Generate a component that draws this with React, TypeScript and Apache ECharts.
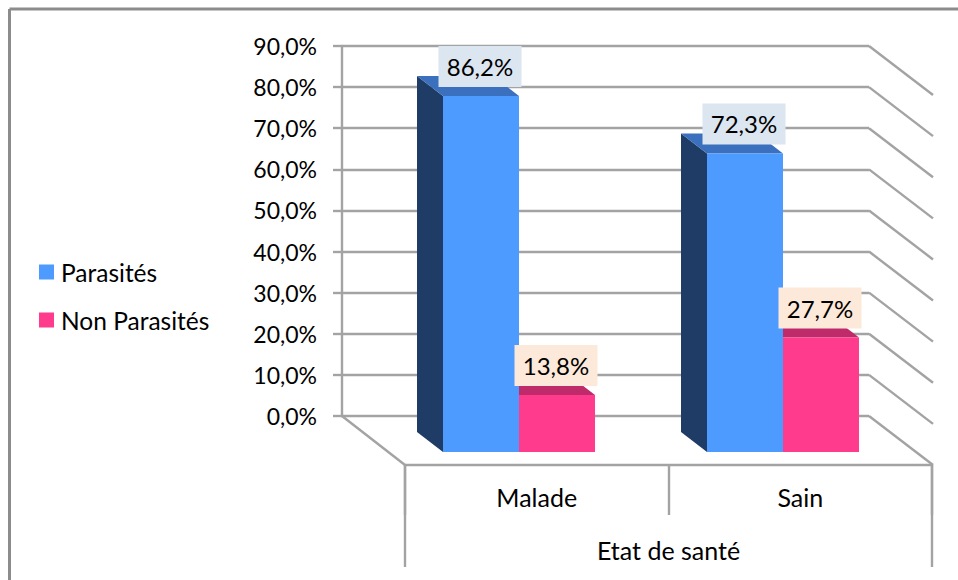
import React, { useEffect, useRef } from "react";
import * as echarts from "echarts";

const categories = ["Malade", "Sain"];
const parasites = [86.2, 72.3];
const nonParasites = [13.8, 27.7];
const wallTicks = [0, 10, 20, 30, 40, 50, 60, 70, 80, 90];
const axisTitle = "Etat de santé";

const FONT = "Lato, Carlito, 'Open Sans', sans-serif";
const LINE = "#a3a3a3";
const LINE_W = 2.4;
const DEPTH_X = 26;
const DEPTH_Y = 20;
const BAR_W = 76;

const fmt = (v: number) => v.toFixed(1).replace(".", ",");

function faces(side: "left" | "right", topColor: string) {
  return (params: any, api: any) => {
    const i = api.value(0);
    const v = api.value(1);
    const [cx, top] = api.coord([i, v]);
    const [, base] = api.coord([i, 0]);
    const l = side === "left" ? cx - BAR_W : cx;
    const r = l + BAR_W;
    return {
      type: "group",
      children: [
        {
          type: "polygon",
          shape: { points: [[l, top], [l - DEPTH_X, top - DEPTH_Y], [l - DEPTH_X, base - DEPTH_Y], [l, base]] },
          style: { fill: "#1f3c66" },
        },
        {
          type: "polygon",
          shape: { points: [[l, top], [l - DEPTH_X, top - DEPTH_Y], [r - DEPTH_X, top - DEPTH_Y], [r, top]] },
          style: { fill: topColor },
        },
      ],
    };
  };
}

function wallLine(params: any, api: any) {
  const y = api.coord([0, api.value(0)])[1];
  const cs = params.coordSys;
  const xr = cs.x + cs.width;
  return {
    type: "polyline",
    shape: { points: [[xr, y], [xr + 64, y + 49]] },
    style: { stroke: LINE, lineWidth: LINE_W, fill: "none" },
  };
}

function floorLine(params: any, api: any) {
  const y = api.coord([0, 0])[1];
  const cs = params.coordSys;
  return {
    type: "polyline",
    shape: { points: [[cs.x, y], [cs.x + 63, y + 49]] },
    style: { stroke: LINE, lineWidth: LINE_W, fill: "none" },
  };
}

const barLabel = (bg: string) => ({
  show: true,
  position: "top" as const,
  distance: 9,
  offset: [-1, 0],
  formatter: (p: any) => fmt(p.value) + "%",
  width: 83,
  height: 41,
  lineHeight: 41,
  align: "center" as const,
  backgroundColor: bg,
  color: "#000",
  fontFamily: FONT,
  fontSize: 24,
});

export default function App() {
  const ref = useRef<HTMLDivElement>(null);
  useEffect(() => {
    const chart = echarts.init(ref.current!, undefined, { renderer: "svg" });
    chart.setOption({
      animation: false,
      backgroundColor: "#fff",
      legend: {
        show: true,
        orient: "vertical",
        left: 39,
        top: 258,
        padding: 0,
        itemWidth: 15,
        itemHeight: 15,
        itemGap: 20,
        icon: "rect",
        data: ["Parasités", "Non Parasités"],
        textStyle: { fontFamily: FONT, fontSize: 24.5, color: "#000", lineHeight: 28, padding: [0, 0, 0, 2] },
      },
      grid: [
        { left: 342, top: 46, width: 527, height: 370 },
        { left: 387, top: 80.3, width: 528, height: 371.7 },
        { left: 405, top: 415, width: 527, height: 50 },
      ],
      xAxis: [
        { gridIndex: 0, type: "category", data: categories, show: false },
        { gridIndex: 1, type: "category", data: categories, show: false },
        {
          gridIndex: 2,
          type: "category",
          data: categories,
          axisLine: { lineStyle: { color: LINE, width: LINE_W } },
          axisTick: { show: true, length: 50, lineStyle: { color: LINE, width: LINE_W } },
          axisLabel: { color: "#000", fontFamily: FONT, fontSize: 25, margin: 19 },
          name: axisTitle,
          nameLocation: "middle",
          nameGap: 72,
          nameTextStyle: { color: "#000", fontFamily: FONT, fontSize: 25 },
        },
      ],
      yAxis: [
        {
          gridIndex: 0,
          type: "value",
          min: 0,
          max: 90,
          interval: 10,
          axisLine: { show: true, lineStyle: { color: LINE, width: LINE_W } },
          axisTick: { show: true, length: 9, lineStyle: { color: LINE, width: LINE_W } },
          axisLabel: { color: "#000", fontFamily: FONT, fontSize: 23, margin: 25, formatter: (v: number) => fmt(v) + "%" },
          splitLine: { show: true, lineStyle: { color: LINE, width: LINE_W } },
        },
        { gridIndex: 1, type: "value", min: 0, max: 90, interval: 10, show: false },
        { gridIndex: 2, type: "value", show: false },
      ],
      series: [
        {
          name: "wall",
          type: "custom",
          xAxisIndex: 0,
          yAxisIndex: 0,
          data: wallTicks.map((v) => [v]),
          encode: { y: 0 },
          renderItem: wallLine,
          silent: true,
        },
        {
          name: "floor",
          type: "custom",
          xAxisIndex: 0,
          yAxisIndex: 0,
          data: [[0]],
          encode: { y: 0 },
          renderItem: floorLine,
          silent: true,
        },
        {
          name: "facesA",
          type: "custom",
          xAxisIndex: 1,
          yAxisIndex: 1,
          data: parasites.map((v, i) => [i, v]),
          renderItem: faces("left", "#3a70bd"),
          silent: true,
        },
        {
          name: "facesB",
          type: "custom",
          xAxisIndex: 1,
          yAxisIndex: 1,
          data: nonParasites.map((v, i) => [i, v]),
          renderItem: faces("right", "#bf2a6b"),
          silent: true,
        },
        {
          name: "Parasités",
          type: "bar",
          xAxisIndex: 1,
          yAxisIndex: 1,
          barWidth: BAR_W,
          barGap: 0,
          data: parasites,
          itemStyle: { color: "#4d9bff" },
          label: barLabel("#dce6f1"),
        },
        {
          name: "Non Parasités",
          type: "bar",
          xAxisIndex: 1,
          yAxisIndex: 1,
          barWidth: BAR_W,
          barGap: 0,
          data: nonParasites,
          itemStyle: { color: "#ff3b8d" },
          label: barLabel("#fde9d9"),
        },
      ],
      graphic: [
        { type: "line", shape: { x1: 9.5, y1: 9, x2: 958, y2: 9 }, style: { stroke: "#8c8c8c", lineWidth: 3 }, silent: true },
        { type: "line", shape: { x1: 9.5, y1: 9, x2: 9.5, y2: 580 }, style: { stroke: "#8c8c8c", lineWidth: 3 }, silent: true },
        { type: "line", shape: { x1: 405, y1: 465, x2: 405, y2: 567 }, style: { stroke: LINE, lineWidth: LINE_W }, silent: true },
        { type: "line", shape: { x1: 932, y1: 465, x2: 932, y2: 567 }, style: { stroke: LINE, lineWidth: LINE_W }, silent: true },
      ],
    });
    return () => chart.dispose();
  }, []);
  return <div ref={ref} style={{ position: "fixed", left: 0, top: 0, width: 958, height: 580 }} />;
}
